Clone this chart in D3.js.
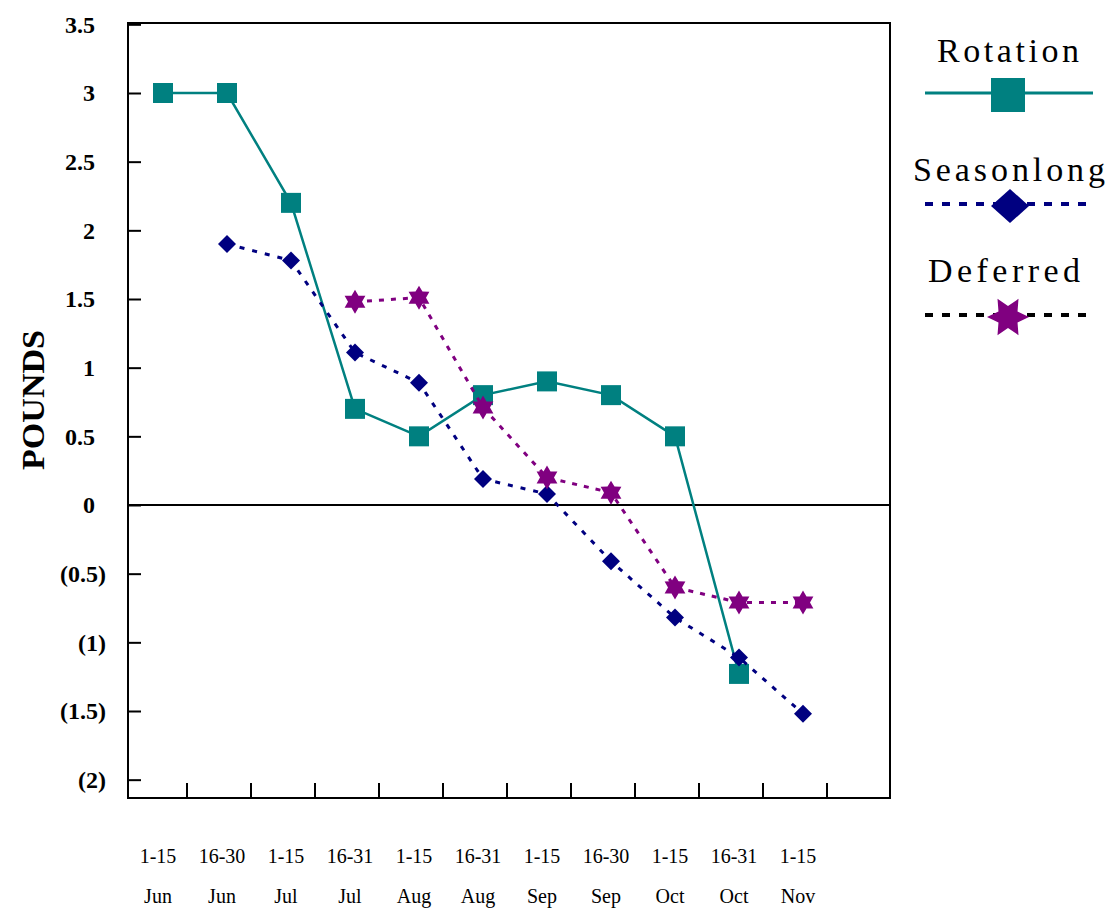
<!DOCTYPE html>
<meta charset="utf-8">
<style>
body { margin: 0; background: #fff; }
text { font-family: "Liberation Serif", "Times New Roman", serif; }
.ylab text { font-weight: bold; font-size: 24px; }
</style>
<body>
<script src="https://d3js.org/d3.v7.min.js"></script>
<script>
var periods = ["1-15", "16-30", "1-15", "16-31", "1-15", "16-31", "1-15", "16-30", "1-15", "16-31", "1-15"];
var months = ["Jun", "Jun", "Jul", "Jul", "Aug", "Aug", "Sep", "Sep", "Oct", "Oct", "Nov"];
var categories = periods.map(function(p, i) { return p + " " + months[i]; });

var rotation   = [3.0, 3.0, 2.2, 0.7, 0.5, 0.8, 0.9, 0.8, 0.5, -1.23, null];
var seasonlong = [null, 1.9, 1.78, 1.11, 0.89, 0.19, 0.08, -0.41, -0.82, -1.11, -1.52];
var deferred   = [null, null, null, 1.48, 1.51, 0.71, 0.2, 0.09, -0.6, -0.71, -0.71];

var yTicks = [3.5, 3, 2.5, 2, 1.5, 1, 0.5, 0, -0.5, -1, -1.5, -2];

var plot = {left: 128, right: 890, top: 23, bottom: 798};

var svg = d3.select("body").append("svg")
    .attr("width", 1113)
    .attr("height", 910);

var x = d3.scalePoint()
    .domain(d3.range(categories.length))
    .range([163, 803]);

var y = d3.scaleLinear()
    .domain([0, 3])
    .range([505, 93]);

// frame
svg.append("rect")
    .attr("x", plot.left).attr("y", plot.top)
    .attr("width", plot.right - plot.left)
    .attr("height", plot.bottom - plot.top)
    .attr("fill", "none").attr("stroke", "#000").attr("stroke-width", 2);

// y axis: ticks point into the plot
var fmt = function(d) { return d < 0 ? "(" + (-d) + ")" : String(d); };
var yAxis = svg.append("g")
    .attr("class", "ylab")
    .attr("transform", "translate(" + plot.left + ",0)")
    .call(d3.axisLeft(y).tickValues(yTicks).tickFormat(fmt).tickSize(-13).tickPadding(33));
yAxis.select(".domain").remove();
yAxis.selectAll("line").attr("stroke", "#000").attr("stroke-width", 2);
yAxis.selectAll("text")
    .attr("fill", "#000")
    .attr("dx", function(d) { return d < 0 ? 11 : 0; });

// zero line
svg.append("line")
    .attr("x1", plot.left).attr("x2", plot.right)
    .attr("y1", y(0)).attr("y2", y(0))
    .attr("stroke", "#000").attr("stroke-width", 2);

// x ticks
svg.append("g").selectAll("line")
    .data(d3.range(categories.length))
  .enter().append("line")
    .attr("x1", function(i) { return x(i) + 24; })
    .attr("x2", function(i) { return x(i) + 24; })
    .attr("y1", plot.bottom).attr("y2", plot.bottom - 15)
    .attr("stroke", "#000").attr("stroke-width", 2);

// x labels (two lines)
var xl = svg.append("g").selectAll("g")
    .data(d3.range(categories.length))
  .enter().append("g")
    .attr("transform", function(i) { return "translate(" + (x(i) - 5) + ",0)"; });
xl.append("text")
    .attr("y", 863).attr("text-anchor", "middle")
    .attr("font-size", 20)
    .text(function(i) { return periods[i]; });
xl.append("text")
    .attr("y", 903).attr("text-anchor", "middle")
    .attr("font-size", 20)
    .text(function(i) { return months[i]; });

// y title
svg.append("text")
    .attr("transform", "translate(44,400) rotate(-90)")
    .attr("text-anchor", "middle")
    .attr("font-size", 32).attr("font-weight", "bold")
    .attr("textLength", 140).attr("lengthAdjust", "spacingAndGlyphs")
    .text("POUNDS");

// marker shapes
function squarePath(r) { return "M" + (-r) + "," + (-r) + "h" + 2 * r + "v" + 2 * r + "h" + (-2 * r) + "Z"; }
function diamondPath(rx, ry) { return "M0," + (-ry) + "L" + rx + ",0L0," + ry + "L" + (-rx) + ",0Z"; }
function starPath(R, r, rot) {
  var pts = d3.range(12).map(function(k) {
    var a = rot + k * Math.PI / 6, rr = k % 2 ? r : R;
    return [rr * Math.sin(a), -rr * Math.cos(a)];
  });
  return "M" + pts.join("L") + "Z";
}

var line = d3.line()
    .defined(function(d) { return d.v != null; })
    .x(function(d) { return x(d.i); })
    .y(function(d) { return y(d.v); });

var series = [
  {name: "Rotation", values: rotation, color: "#008080", dash: null, width: 2.5,
   marker: squarePath(10), legendMarker: squarePath(17), legendLine: "#008080"},
  {name: "Seasonlong", values: seasonlong, color: "#000080", dash: "5,8", width: 3,
   marker: diamondPath(9, 9), legendMarker: diamondPath(19, 17), legendLine: "#000080"},
  {name: "Deferred", values: deferred, color: "#800080", dash: "5,7", width: 3,
   marker: starPath(12, 7, 0), legendMarker: starPath(21, 11, Math.PI / 6), legendLine: "#000"}
];

series.forEach(function(s) {
  var pts = s.values.map(function(v, i) { return {i: i, v: v}; });
  svg.append("path")
      .datum(pts)
      .attr("d", line)
      .attr("fill", "none")
      .attr("stroke", s.color)
      .attr("stroke-width", s.width)
      .attr("stroke-dasharray", s.dash);
  svg.append("g").selectAll("path")
      .data(pts.filter(function(d) { return d.v != null; }))
    .enter().append("path")
      .attr("d", s.marker)
      .attr("transform", function(d) { return "translate(" + x(d.i) + "," + y(d.v) + ")"; })
      .attr("fill", s.color);
});

// legend
var legend = [
  {text: "Rotation", tx: 1008, ty: 62, tw: 142, ly: 93, lx: 1008},
  {text: "Seasonlong", tx: 1009, ty: 181, tw: 192, ly: 204, lx: 1010},
  {text: "Deferred", tx: 1004, ty: 282, tw: 152, ly: 315, lx: 1008}
];
legend.forEach(function(l, k) {
  var s = series[k];
  svg.append("text")
      .attr("x", l.tx).attr("y", l.ty)
      .attr("text-anchor", "middle")
      .attr("font-size", 34)
      .attr("textLength", l.tw).attr("lengthAdjust", "spacing")
      .text(l.text);
  svg.append("line")
      .attr("x1", 925).attr("x2", 1093)
      .attr("y1", l.ly).attr("y2", l.ly)
      .attr("stroke", s.legendLine)
      .attr("stroke-width", s.dash ? 4 : 3)
      .attr("stroke-dasharray", s.dash ? "8,9" : null);
  svg.append("path")
      .attr("d", s.legendMarker)
      .attr("transform", "translate(" + l.lx + "," + (l.ly + 2) + ")")
      .attr("fill", s.color);
});
</script>
</body>
